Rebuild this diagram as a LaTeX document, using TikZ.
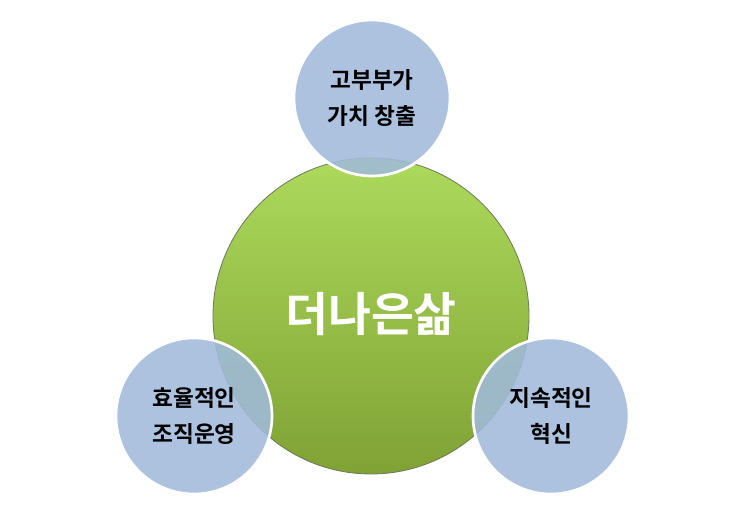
\documentclass[tikz,border=0pt]{standalone}
\usepackage{fontspec}
\newfontfamily\kr{Noto Sans CJK KR Bold}
\begin{document}
\begin{tikzpicture}[x=0.75pt,y=-0.75pt,
  small/.style={circle,minimum size=156*0.75pt,fill={rgb,255:red,160;green,186;blue,218},fill opacity=0.88,draw=white,line width=2pt,text opacity=1,align=center,font=\kr\fontsize{17}{27}\selectfont,text=black,inner sep=0pt}]
\useasboundingbox (0,0) rectangle (744,520);
\shade[top color={rgb,255:red,172;green,218;blue,92},bottom color={rgb,255:red,128;green,162;blue,52},draw={rgb,255:red,110;green,120;blue,90},line width=0.6pt] (371,316) circle (158);
\node[font=\kr\fontsize{35}{40}\selectfont,text=white] (c) at (371,314) {더나은삶};
\node[small] (t) at (372,98) {고부부가\\가치 창출};
\node[small] (l) at (194,416) {효율적인\\조직운영};
\node[small] (r) at (551,416) {지속적인\\혁신};
\end{tikzpicture}
\end{document}
